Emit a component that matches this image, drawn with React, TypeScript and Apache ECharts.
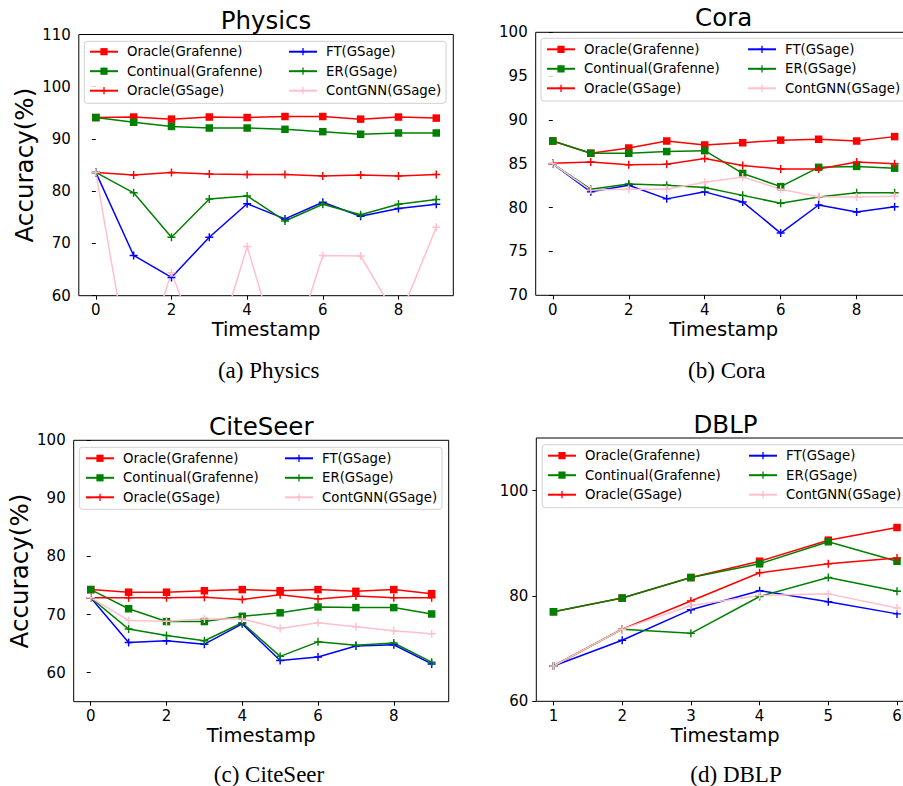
import React, { useEffect, useRef } from "react";
import * as echarts from "echarts";

const seriesNames = ["Oracle(Grafenne)", "Continual(Grafenne)", "Oracle(GSage)", "FT(GSage)", "ER(GSage)", "ContGNN(GSage)"];
const seriesColors = ["#ff0000", "#008000", "#ff0000", "#0000ff", "#008000", "#ffc0cb"];
const squareMarker = [true, true, false, false, false, false];
const legendColumn1 = ["Oracle(Grafenne)", "Continual(Grafenne)", "Oracle(GSage)"];
const legendColumn2 = ["FT(GSage)", "ER(GSage)", "ContGNN(GSage)"];

const timestampsTen = [0, 1, 2, 3, 4, 5, 6, 7, 8, 9];
const timestampsDblp = [1, 2, 3, 4, 5, 6];
const xTicksTen = [0, 2, 4, 6, 8];
const xTicksDblp = [1, 2, 3, 4, 5, 6];

// Physics
const physicsOracleGrafenne = [94.1, 94.2, 93.8, 94.2, 94.1, 94.3, 94.3, 93.8, 94.2, 94.0];
const physicsContinualGrafenne = [94.1, 93.2, 92.4, 92.1, 92.1, 91.85, 91.4, 90.9, 91.15, 91.15];
const physicsOracleGSage = [83.6, 83.1, 83.6, 83.3, 83.2, 83.2, 82.9, 83.1, 82.9, 83.2];
const physicsFT = [83.6, 67.7, 63.5, 71.2, 77.6, 74.7, 77.9, 75.2, 76.7, 77.5];
const physicsER = [83.6, 79.7, 71.2, 78.5, 79.1, 74.3, 77.5, 75.5, 77.5, 78.4];
const physicsContGNN = [83.6, 42.0, 64.4, 45.5, 69.4, 45.0, 67.7, 67.6, 55.3, 73.1];
const physicsYTicks = [60, 70, 80, 90, 100, 110];

// Cora
const coraOracleGrafenne = [87.6, 86.2, 86.8, 87.6, 87.15, 87.4, 87.7, 87.8, 87.6, 88.1];
const coraContinualGrafenne = [87.6, 86.2, 86.2, 86.4, 86.5, 83.9, 82.4, 84.6, 84.7, 84.5];
const coraOracleGSage = [85.05, 85.2, 84.9, 84.95, 85.6, 84.8, 84.4, 84.4, 85.2, 85.0];
const coraFT = [85.0, 81.8, 82.55, 81.0, 81.8, 80.65, 77.1, 80.3, 79.5, 80.1];
const coraER = [85.0, 82.1, 82.7, 82.55, 82.3, 81.4, 80.5, 81.2, 81.7, 81.7];
const coraContGNN = [85.0, 82.0, 82.1, 82.1, 82.9, 83.5, 82.1, 81.25, 81.2, 81.3];
const coraYTicks = [70, 75, 80, 85, 90, 95, 100];

// CiteSeer
const citeseerOracleGrafenne = [74.3, 73.85, 73.85, 74.1, 74.3, 74.1, 74.3, 74.0, 74.3, 73.6];
const citeseerContinualGrafenne = [74.3, 71.0, 68.8, 68.8, 69.7, 70.3, 71.3, 71.2, 71.2, 70.1];
const citeseerOracleGSage = [72.9, 72.9, 72.9, 73.0, 72.6, 73.4, 72.7, 73.2, 72.9, 72.9];
const citeseerFT = [72.9, 65.2, 65.5, 64.9, 68.4, 62.1, 62.7, 64.6, 64.8, 61.5];
const citeseerER = [72.9, 67.5, 66.4, 65.5, 68.6, 62.8, 65.3, 64.7, 65.1, 61.8];
const citeseerContGNN = [72.9, 69.0, 68.85, 69.25, 69.25, 67.6, 68.6, 67.9, 67.2, 66.7];
const citeseerYTicks = [60, 70, 80, 90, 100];

// DBLP
const dblpOracleGrafenne = [77.0, 79.6, 83.5, 86.6, 90.6, 93.0];
const dblpContinualGrafenne = [77.0, 79.6, 83.5, 86.1, 90.3, 86.6];
const dblpOracleGSage = [66.7, 73.7, 79.05, 84.4, 86.1, 87.2];
const dblpFT = [66.7, 71.6, 77.4, 81.0, 78.9, 76.6];
const dblpER = [66.7, 73.7, 72.9, 79.9, 83.5, 80.9];
const dblpContGNN = [66.7, 73.7, 78.2, 80.1, 80.4, 77.7];
const dblpYTicks = [60, 80, 100];

const PLUS = "path://M4.1,0H5.9V4.1H10V5.9H5.9V10H4.1V5.9H0V4.1H4.1Z";
const FONT = "DejaVu Sans";

const panels = [
  {
    title: "Physics", caption: "(a) Physics", xs: timestampsTen, xTicks: xTicksTen, xMin: -0.45, xMax: 9.45,
    yMin: 60, yMax: 110, yTicks: physicsYTicks, yName: "Accuracy(%)",
    values: [physicsOracleGrafenne, physicsContinualGrafenne, physicsOracleGSage, physicsFT, physicsER, physicsContGNN],
    grid: { left: 78.8, top: 34.5, width: 374.5, height: 261.2 },
    titlePos: [266, 8], captionPos: [268.7, 370],
    legendBox: [84.3, 41.3, 361.7, 62], legendCols: [89, 288], legendTop: 44.7,
  },
  {
    title: "Cora", caption: "(b) Cora", xs: timestampsTen, xTicks: xTicksTen, xMin: -0.45, xMax: 9.45,
    yMin: 70, yMax: 100, yTicks: coraYTicks, yName: "",
    values: [coraOracleGrafenne, coraContinualGrafenne, coraOracleGSage, coraFT, coraER, coraContGNN],
    grid: { left: 535.7, top: 32.3, width: 376, height: 263 },
    titlePos: [723.7, 5.2], captionPos: [726.7, 370],
    legendBox: [541, 38.3, 366, 62.7], legendCols: [546, 747], legendTop: 42.3,
  },
  {
    title: "CiteSeer", caption: "(c) CiteSeer", xs: timestampsTen, xTicks: xTicksTen, xMin: -0.45, xMax: 9.45,
    yMin: 55, yMax: 100, yTicks: citeseerYTicks, yName: "Accuracy(%)",
    values: [citeseerOracleGrafenne, citeseerContinualGrafenne, citeseerOracleGSage, citeseerFT, citeseerER, citeseerContGNN],
    grid: { left: 73.7, top: 440.3, width: 375, height: 261.4 },
    titlePos: [261.3, 414], captionPos: [269, 774.5],
    legendBox: [79.3, 447.3, 362.7, 62], legendCols: [85, 284], legendTop: 451.3,
  },
  {
    title: "DBLP", caption: "(d) DBLP", xs: timestampsDblp, xTicks: xTicksDblp, xMin: 0.75, xMax: 6.25,
    yMin: 60, yMax: 110, yTicks: dblpYTicks, yName: "",
    values: [dblpOracleGrafenne, dblpContinualGrafenne, dblpOracleGSage, dblpFT, dblpER, dblpContGNN],
    grid: { left: 536.3, top: 438, width: 377.9, height: 263.3 },
    titlePos: [725.5, 411.7], captionPos: [736, 774.5],
    legendBox: [542.3, 444.7, 366, 63], legendCols: [547, 748], legendTop: 448.7,
  },
];

function buildOption() {
  const titles: any[] = [];
  const grids: any[] = [];
  const xAxes: any[] = [];
  const yAxes: any[] = [];
  const legends: any[] = [];
  const graphics: any[] = [];
  const series: any[] = [];

  panels.forEach((p, i) => {
    titles.push({
      text: p.title, left: p.titlePos[0], top: p.titlePos[1], textAlign: "center", padding: 0,
      textStyle: { fontFamily: FONT, fontSize: 24.5, fontWeight: "normal", color: "#000" },
    });
    grids.push({
      ...p.grid, show: true, borderColor: "#000", borderWidth: 1, backgroundColor: "transparent",
      containLabel: false, outerBoundsMode: "none",
    });
    xAxes.push({
      type: "value", gridIndex: i, min: p.xMin, max: p.xMax,
      name: "Timestamp", nameLocation: "middle", nameGap: 24, nameMoveOverlap: false,
      nameTextStyle: { fontFamily: FONT, fontSize: 19.5, color: "#000" },
      axisLine: { show: false },
      axisTick: { show: true, inside: false, length: 4, customValues: p.xTicks, lineStyle: { color: "#000", width: 1 } },
      axisLabel: { customValues: p.xTicks, fontFamily: FONT, fontSize: 15, color: "#000", margin: 7, showMinLabel: true, showMaxLabel: true },
      splitLine: { show: false },
    });
    yAxes.push({
      type: "value", gridIndex: i, min: p.yMin, max: p.yMax,
      name: p.yName, nameLocation: "middle", nameGap: 42, nameMoveOverlap: false,
      nameTextStyle: { fontFamily: FONT, fontSize: 24.6, color: "#000" },
      axisLine: { show: false },
      axisTick: { show: true, inside: false, length: 4, customValues: p.yTicks, lineStyle: { color: "#000", width: 1 } },
      axisLabel: { customValues: p.yTicks, fontFamily: FONT, fontSize: 15, color: "#000", margin: 8 },
      splitLine: { show: false },
    });
    [legendColumn1, legendColumn2].forEach((cols, c) => {
      legends.push({
        data: cols, orient: "vertical", left: p.legendCols[c], top: p.legendTop, padding: 0,
        itemWidth: 28, itemHeight: 9, itemGap: 5.5, selectedMode: false, z: 10,
        textStyle: { fontFamily: FONT, fontSize: 13.3, color: "#000", lineHeight: 14, padding: [0, 0, 0, 4] },
      });
    });
    graphics.push({
      type: "rect", z: 5, silent: true,
      shape: { x: p.legendBox[0], y: p.legendBox[1], width: p.legendBox[2], height: p.legendBox[3], r: 3 },
      style: { fill: "rgba(255,255,255,0.8)", stroke: "#d0d0d0", lineWidth: 1 },
    });
    graphics.push({
      type: "text", silent: true, x: p.captionPos[0], y: p.captionPos[1],
      style: { text: p.caption, font: "23px 'Liberation Serif'", fill: "#000", textAlign: "center", textVerticalAlign: "middle" },
    });
    p.values.forEach((vals, s) => {
      series.push({
        type: "line", name: seriesNames[s], xAxisIndex: i, yAxisIndex: i,
        data: p.xs.map((x, k) => [x, vals[k]]),
        symbol: squareMarker[s] ? "rect" : PLUS,
        symbolSize: squareMarker[s] ? 7.5 : 8,
        showSymbol: true, clip: true, silent: true,
        lineStyle: { color: seriesColors[s], width: 1.5 },
        itemStyle: { color: seriesColors[s] },
        emphasis: { disabled: true },
      });
    });
  });

  return {
    animation: false,
    backgroundColor: "#fff",
    title: titles, grid: grids, xAxis: xAxes, yAxis: yAxes,
    legend: legends, graphic: graphics, series,
  };
}

export default function App() {
  const ref = useRef<HTMLDivElement>(null);
  useEffect(() => {
    if (!ref.current) return;
    const chart = echarts.init(ref.current, null, { renderer: "svg" });
    chart.setOption(buildOption() as any);
    return () => chart.dispose();
  }, []);
  return <div ref={ref} style={{ position: "absolute", left: 0, top: 0, width: 903, height: 786 }} />;
}
